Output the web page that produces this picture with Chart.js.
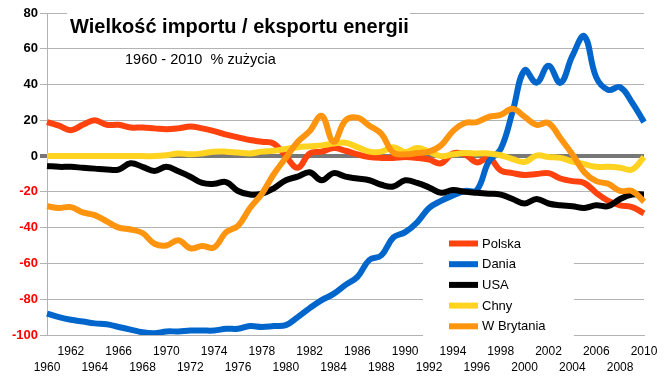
<!DOCTYPE html>
<html>
<head>
<meta charset="utf-8">
<script src="https://cdn.jsdelivr.net/npm/chart.js@4/dist/chart.umd.min.js"></script>
<style>
  html, body { margin: 0; padding: 0; background: #fff; }
  canvas { display: block; }
</style>
</head>
<body>
<canvas id="chart" width="668" height="387"></canvas>
<script>
'use strict';

// Years 1960..2010, one point per year
var years = [];
for (var y = 1960; y <= 2010; y++) years.push(String(y));

var seriesNames = ['Polska', 'Dania', 'USA', 'Chny', 'W Brytania'];
var seriesColors = ['#ff420e', '#0066cc', '#000000', '#ffd320', '#ff950e'];

// import / export as % of consumption
var polska = [19, 17, 14.5, 17.5, 20, 17.5, 17.5, 16, 16, 15.5,
  15, 15.5, 16.5, 15.5, 14, 12, 10.5, 9, 8, 7,
  0, -6.5, 1.5, 2.5, 4.5, 3, 1, -0.5, -1, -1,
  -0.5, -1, -2, -4, 1.5, 1, -3.5, -1, -8, -9.5,
  -10.5, -10, -9.5, -12.5, -14, -15, -20.5, -25, -27.5, -28.5, -32];
var dania = [-88, -90, -91.5, -92.5, -93.5, -94, -95.5, -97, -98.5, -99,
  -98, -98, -97.5, -97.5, -97.5, -96.5, -96.5, -95, -95.5, -95,
  -94.5, -90, -85, -80.5, -77, -72, -67.5, -58, -55.5, -45.5,
  -42.5, -37, -29, -25, -22, -19.5, -19, -3, 4, 25,
  48, 41, 50.5, 41, 56, 67, 44, 37, 38.5, 30, 19];
var usa = [-5.5, -6, -6, -6.5, -7, -7.5, -7.5, -4, -6, -8.3,
  -6, -8.5, -11.5, -15, -15.5, -14.5, -19.5, -21.5, -21, -18,
  -13.5, -11.5, -9, -13.5, -9.5, -11.5, -12.5, -13.5, -16, -17,
  -13.5, -15, -17.5, -20.5, -19, -20, -20.5, -21, -21.5, -24,
  -26.5, -24, -26.5, -27.5, -28, -29, -27.5, -28, -24, -21.5, -21.5];
var chiny = [0, 0, 0, 0, 0, 0, 0, 0, 0, 0,
  0.5, 1.5, 1, 1.5, 2.5, 2.5, 2, 1.5, 2.5, 3,
  4, 5, 5.5, 6, 7, 7.5, 5, 2.5, 2.5, 5,
  2.3, 4.5, 2.5, 0, 1, 1.7, 1.5, 1.5, 0.5, -1.7,
  -3.3, 0.3, -0.5, -1, -3, -4.5, -6, -6, -6.5, -7.5, -0.5];
var wBrytania = [-28, -29, -28.5, -31.5, -33, -36.5, -40, -41, -43, -49,
  -50, -47, -51.5, -50.3, -51, -42.5, -39, -29, -21, -10,
  -1, 8, 14, 22.5, 8, 20, 21.5, 17, 12.5, 2,
  1, 1.7, 2.5, 6, 14, 18.5, 19, 22, 23, 26.5,
  22, 17.5, 18.5, 10, 1, -9, -14, -15.5, -19.5, -19.5, -25.5];

var yMin = -100, yMax = 80, yStep = 20;

var titleText = 'Wielkość importu / eksportu energii';
var subtitleText = '1960 - 2010  % zużycia';

var FONT = '"Liberation Sans", Arial, sans-serif';
var GRID = '#b3b3b3';

// Title block and the legend box sitting inside the plot, Excel style
var overlayPlugin = {
  id: 'overlay',
  beforeDatasetsDraw: function (chart) {
    var ctx = chart.ctx;
    ctx.save();
    ctx.fillStyle = '#fff';
    ctx.fillRect(67, 4, 343, 38);
    ctx.fillStyle = '#000';
    ctx.textBaseline = 'alphabetic';
    ctx.font = 'bold 20px ' + FONT;
    ctx.fillText(titleText, 70, 33);
    ctx.font = '14.5px ' + FONT;
    ctx.fillText(subtitleText, 125, 64);
    ctx.restore();
  },
  afterDatasetsDraw: function (chart) {
    var ctx = chart.ctx;
    ctx.save();
    ctx.fillStyle = '#fff';
    ctx.fillRect(423, 230, 151, 107);
    ctx.font = '13px ' + FONT;
    ctx.textBaseline = 'middle';
    chart.data.datasets.forEach(function (ds, i) {
      var yy = 243.5 + i * 20.7;
      ctx.strokeStyle = ds.borderColor;
      ctx.lineWidth = 6;
      ctx.lineCap = 'butt';
      ctx.beginPath();
      ctx.moveTo(449, yy);
      ctx.lineTo(478, yy);
      ctx.stroke();
      ctx.fillStyle = '#000';
      ctx.fillText(ds.label, 482, yy + 0.5);
    });
    ctx.restore();
  }
};

var values = [polska, dania, usa, chiny, wBrytania];
var datasets = values.map(function (arr, i) {
  return {
    label: seriesNames[i],
    data: arr,
    borderColor: seriesColors[i],
    backgroundColor: seriesColors[i],
    borderWidth: 6,
    pointRadius: 0,
    tension: 0.4,
    fill: false,
    borderJoinStyle: 'round',
    order: values.length - i
  };
});

new Chart(document.getElementById('chart'), {
  type: 'line',
  data: { labels: years, datasets: datasets },
  options: {
    responsive: false,
    animation: false,
    events: [],
    layout: { padding: { top: 13, right: 24, left: 0, bottom: 0 } },
    plugins: {
      legend: { display: false },
      title: { display: false },
      tooltip: { enabled: false }
    },
    scales: {
      x: {
        type: 'category',
        offset: false,
        afterFit: function (scale) { scale.height = 52; },
        border: { display: true, color: GRID, width: 1 },
        grid: {
          drawTicks: false,
          color: function (c) { return c.index === years.length - 1 ? GRID : 'rgba(0,0,0,0)'; }
        },
        ticks: {
          autoSkip: false,
          maxRotation: 0,
          minRotation: 0,
          padding: 9,
          color: '#000',
          font: { family: FONT, size: 12, lineHeight: 1.33 },
          callback: function (value) {
            var yr = Number(this.getLabelForValue(value));
            if (yr % 2) return null;
            return (yr - 1960) % 4 === 0 ? ['', String(yr)] : [String(yr), ''];
          }
        }
      },
      y: {
        min: yMin,
        max: yMax,
        afterFit: function (scale) { scale.width = 47; },
        border: { display: true, color: GRID, width: 1 },
        grid: {
          tickLength: 7,
          color: function (c) { return c.tick && c.tick.value === 0 ? '#777' : GRID; },
          lineWidth: function (c) { return c.tick && c.tick.value === 0 ? 4 : 1; }
        },
        ticks: {
          stepSize: yStep,
          padding: 2,
          font: { family: FONT, size: 13, weight: 'bold' },
          color: function (c) { return c.tick.value < 0 ? '#ff0000' : '#000'; }
        }
      }
    }
  },
  plugins: [overlayPlugin]
});
</script>
</body>
</html>
